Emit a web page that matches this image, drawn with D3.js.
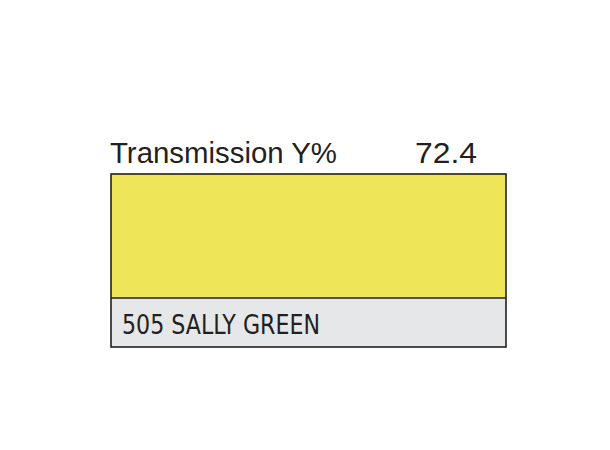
<!DOCTYPE html>
<html>
<head>
<meta charset="utf-8">
<script src="https://cdn.jsdelivr.net/npm/d3@7"></script>
<style>
  html, body { margin: 0; padding: 0; background: #fff; }
</style>
</head>
<body>
<div id="chart"></div>
<script>
const filterNames = ['505 SALLY GREEN']
const transmission = [72.4]
const swatchColors = ['#efe558']
const headerLabel = ['Transmission Y%']

const width = 610
const height = 450

const svg = d3.select('#chart')
  .append('svg')
  .attr('width', width)
  .attr('height', height)

// box spans the full x range; rows are swatch + name strip
const x = d3.scaleLinear().domain([0, 1]).range([111, 506])
const y = d3.scaleLinear().domain([0, 1]).range([174, 347])
const split = 0.717 // swatch share of box height

const g = svg.append('g')

// colour swatch
g.selectAll('.swatch')
  .data(swatchColors)
  .enter()
  .append('rect')
  .attr('class', 'swatch')
  .attr('x', x(0))
  .attr('y', y(0))
  .attr('width', x(1) - x(0))
  .attr('height', y(split) - y(0))
  .style('fill', d => d)

// name strip
g.selectAll('.strip')
  .data(filterNames)
  .enter()
  .append('rect')
  .attr('class', 'strip')
  .attr('x', x(0))
  .attr('y', y(split))
  .attr('width', x(1) - x(0))
  .attr('height', y(1) - y(split))
  .style('fill', '#e6e7e8')

// outline and divider
g.append('rect')
  .attr('x', x(0))
  .attr('y', y(0))
  .attr('width', x(1) - x(0))
  .attr('height', y(1) - y(0))
  .style('fill', 'none')
  .style('stroke', '#231f20')
  .style('stroke-width', 1.6)

g.append('line')
  .attr('x1', x(0))
  .attr('x2', x(1))
  .attr('y1', y(split))
  .attr('y2', y(split))
  .style('stroke', '#231f20')
  .style('stroke-width', 1.6)

// header texts
svg.append('text')
  .attr('x', x(0) - 1)
  .attr('y', 163)
  .attr('textLength', 227)
  .attr('lengthAdjust', 'spacingAndGlyphs')
  .text(headerLabel[0])
  .style('font-family', '"Liberation Sans", Arial, sans-serif')
  .style('font-size', '29px')
  .style('fill', '#231f20')

svg.selectAll('.value')
  .data(transmission)
  .enter()
  .append('text')
  .attr('class', 'value')
  .attr('x', 415)
  .attr('y', 163)
  .attr('textLength', 62)
  .attr('lengthAdjust', 'spacingAndGlyphs')
  .text(d => d3.format('.1f')(d))
  .style('font-family', '"Liberation Sans", Arial, sans-serif')
  .style('font-size', '30px')
  .style('fill', '#231f20')

// filter name
svg.selectAll('.name')
  .data(filterNames)
  .enter()
  .append('text')
  .attr('class', 'name')
  .attr('x', 122)
  .attr('y', 334)
  .attr('textLength', 198)
  .attr('lengthAdjust', 'spacingAndGlyphs')
  .text(d => d)
  .style('font-family', '"Liberation Sans Narrow", "Arial Narrow", "DejaVu Sans Condensed", sans-serif')
  .style('font-size', '26.5px')
  .style('fill', '#231f20')
</script>
</body>
</html>
